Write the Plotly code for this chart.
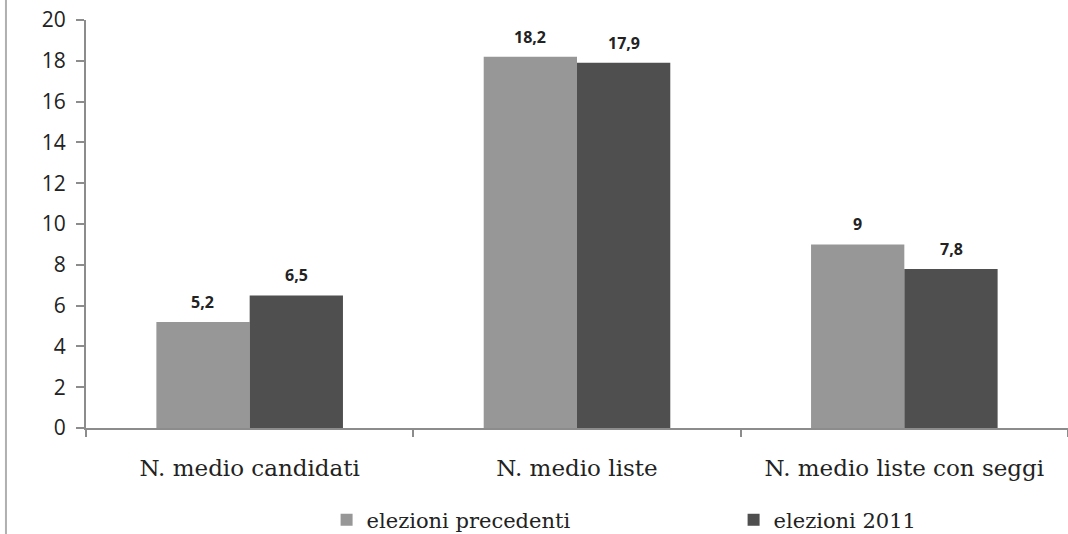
import plotly.graph_objects as go

categories = ["N. medio candidati", "N. medio liste", "N. medio liste con seggi"]
series_names = ["elezioni precedenti", "elezioni 2011"]
precedenti = [5.2, 18.2, 9]
elezioni_2011 = [6.5, 17.9, 7.8]
value_labels_prec = ["5,2", "18,2", "9"]
value_labels_2011 = ["6,5", "17,9", "7,8"]
y_ticks = [0, 2, 4, 6, 8, 10, 12, 14, 16, 18, 20]

colors = ["#979797", "#4f4f4f"]

fig = go.Figure()
fig.add_trace(go.Bar(x=categories, y=precedenti, name=series_names[0],
                     marker=dict(color=colors[0], line=dict(width=0))))
fig.add_trace(go.Bar(x=categories, y=elezioni_2011, name=series_names[1],
                     marker=dict(color=colors[1], line=dict(width=0))))

# value labels above each bar
label_font = dict(family="Open Sans", size=16, color="#222222")
for i, cat in enumerate(categories):
    for vals, labels, shift in ((precedenti, value_labels_prec, -47),
                                (elezioni_2011, value_labels_2011, 47)):
        fig.add_annotation(x=i, y=vals[i], text="<b>" + labels[i] + "</b>",
                           showarrow=False, xshift=shift, yshift=20,
                           font=label_font, xref="x", yref="y")

# thin frame line on the far left
fig.add_shape(type="line", xref="paper", yref="paper",
              x0=-0.0815, x1=-0.0815, y0=-0.3, y1=1.1,
              line=dict(color="#b0b0b0", width=2))

fig.update_layout(
    width=1068, height=534,
    margin=dict(l=86, r=0, t=20, b=106, autoexpand=False),
    paper_bgcolor="white", plot_bgcolor="white",
    barmode="group", bargap=0.43, bargroupgap=0,
    showlegend=True,
    legend=dict(orientation="h", x=0.245, xanchor="left",
                yref="container", y=0.026, yanchor="middle",
                entrywidth=362, entrywidthmode="pixels",
                font=dict(family="DejaVu Serif", size=21, color="#222222"),
                itemwidth=30, traceorder="normal"),
    xaxis=dict(showline=True, linecolor="#8c8c8c", linewidth=2,
               ticks="outside", tickson="boundaries", ticklen=7,
               tickcolor="#8c8c8c", tickwidth=1.5,
               tickfont=dict(family="DejaVu Serif", size=23, color="#222222"),
               ticklabelstandoff=18,
               showgrid=False, zeroline=False),
    yaxis=dict(range=[0, 20], tickvals=y_ticks, showline=True,
               linecolor="#8c8c8c", linewidth=2,
               ticks="outside", ticklen=8, tickcolor="#8c8c8c", tickwidth=1.5,
               tickfont=dict(family="Open Sans", size=21, color="#222222"),
               showgrid=False, zeroline=False, ticklabelstandoff=6),
)

fig.write_html("out.html")
